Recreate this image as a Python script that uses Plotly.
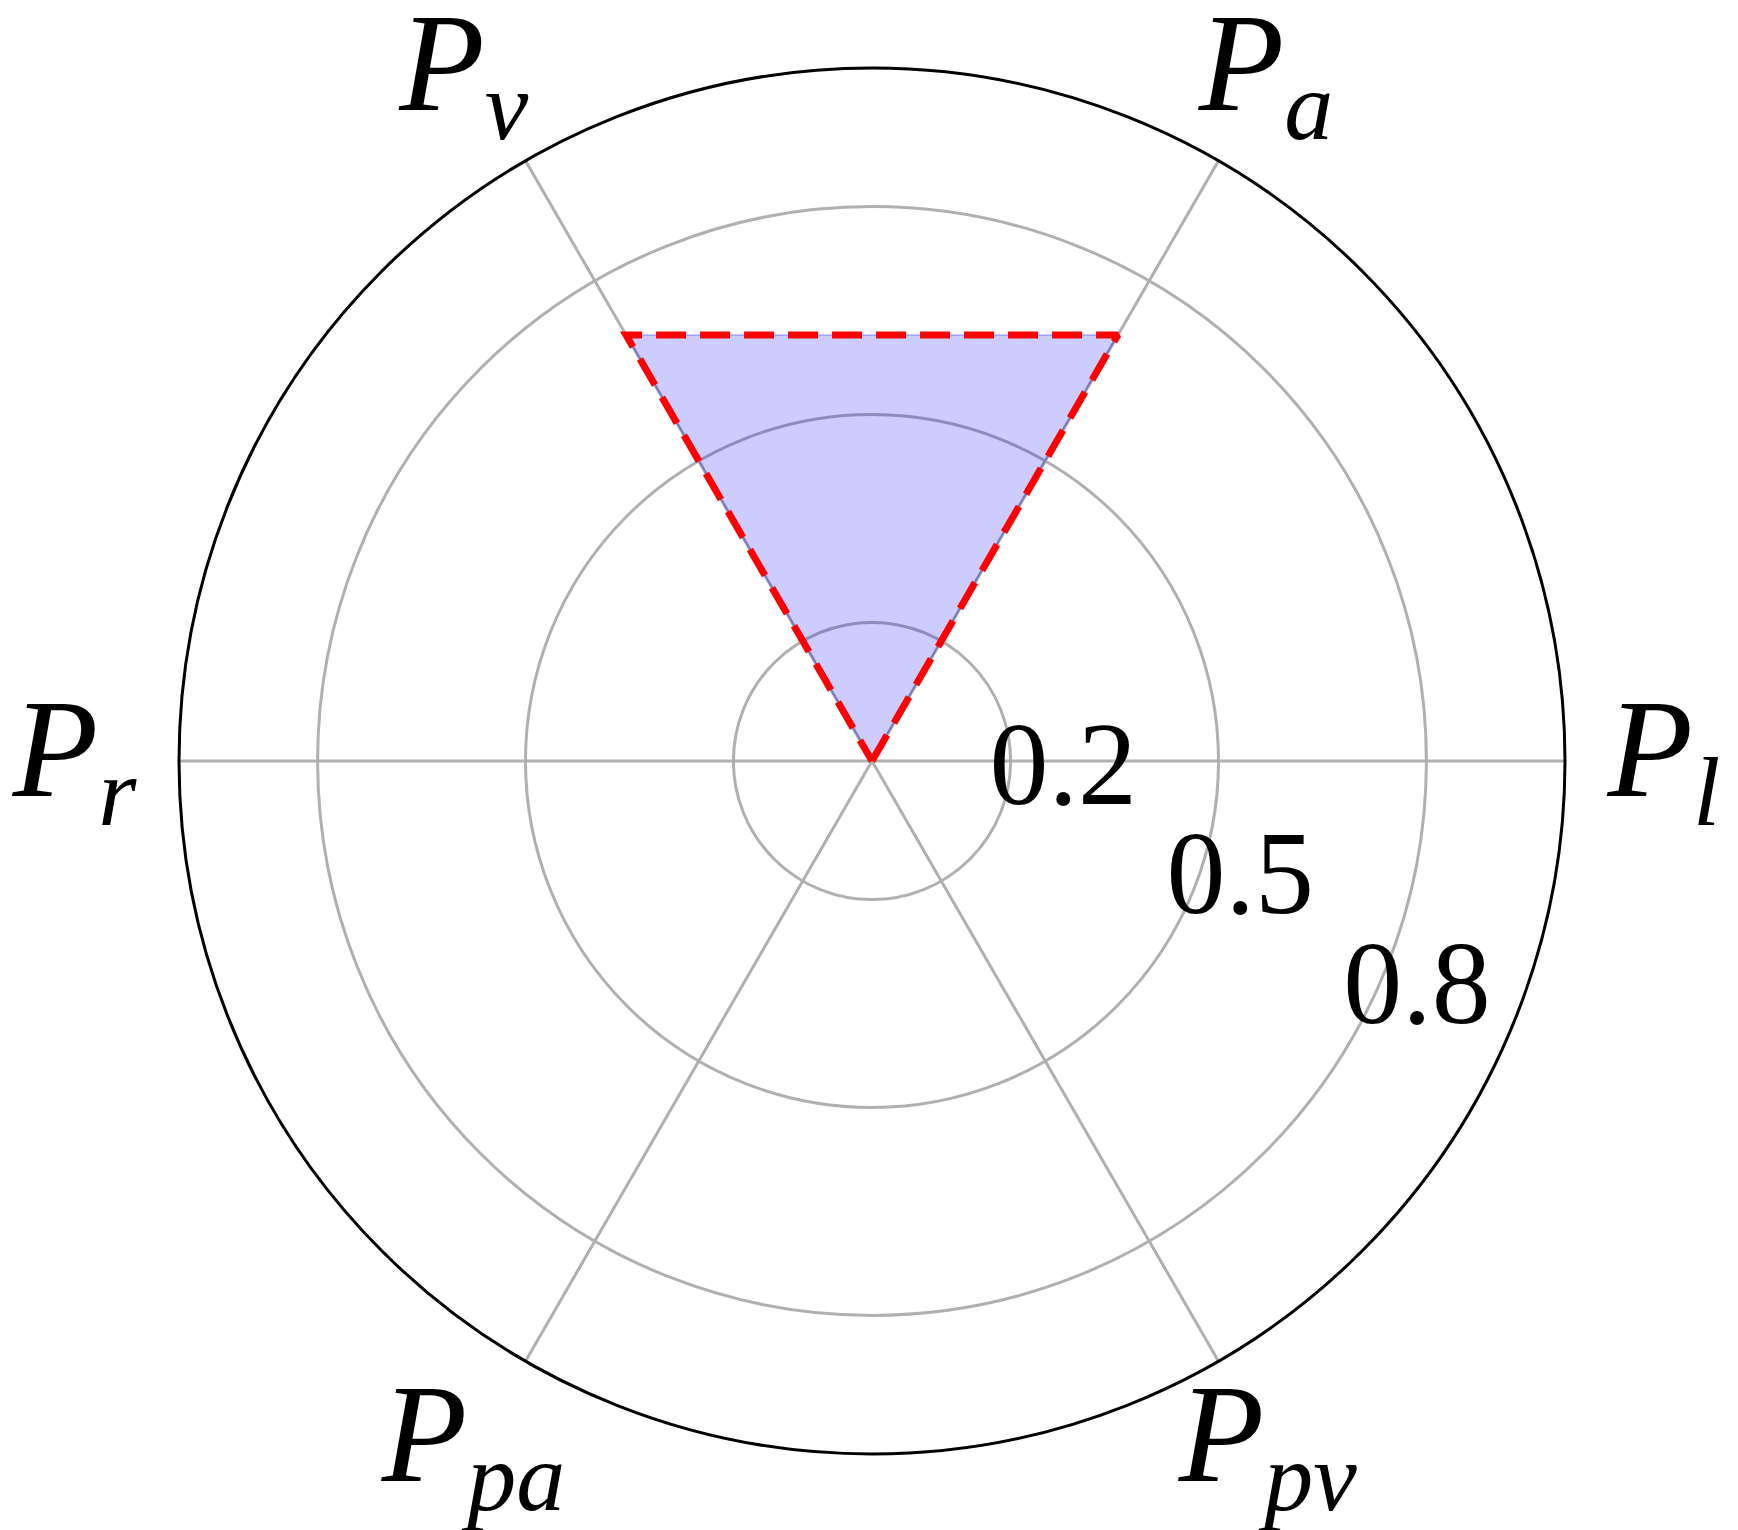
import plotly.graph_objects as go

# Axis categories (angles in degrees, counterclockwise from the right)
axis_labels = ['<i>P</i><sub><i>l</i></sub>', '<i>P</i><sub><i>a</i></sub>',
               '<i>P</i><sub><i>v</i></sub>', '<i>P</i><sub><i>r</i></sub>',
               '<i>P</i><sub><i>pa</i></sub>', '<i>P</i><sub><i>pv</i></sub>']
axis_angles = [0, 60, 120, 180, 240, 300]

# Values per axis
values = [0.0, 0.71, 0.71, 0.0, 0.0, 0.0]

# Radial ticks
radial_ticks = [0.2, 0.5, 0.8]
radial_tick_text = ['0.2', '0.5', '0.8']

# Close the polygon
r_closed = values + [values[0]]
theta_closed = axis_angles + [axis_angles[0]]

W, H = 1738, 1530
PAGE_OFFSET = 8   # default body margin of the html page
SERIF = 'Liberation Serif, DejaVu Serif, serif'
RADIAL_ANGLE = -31.7
LABEL_SIZE = 140
TICK_SIZE = 118


def polar_domain(cx, cy, radius):
    '''
    Returns a polar domain dict for a circle given in page pixels.
    '''
    cx, cy = cx - PAGE_OFFSET, cy - PAGE_OFFSET
    return {'x': [(cx - radius) / W, (cx + radius) / W],
            'y': [1 - (cy + radius) / H, 1 - (cy - radius) / H]}


def label_polar(cx, cy, radius, keep):
    '''
    Returns an invisible polar subplot that only shows some of the angular labels.
    '''
    return {'domain': polar_domain(cx, cy, radius),
            'bgcolor': 'rgba(0, 0, 0, 0)',
            'radialaxis': {'visible': False, 'range': [0, 1]},
            'angularaxis': {'direction': 'counterclockwise',
                            'rotation': 0,
                            'tickmode': 'array',
                            'tickvals': [axis_angles[i] for i in keep],
                            'ticktext': [axis_labels[i] for i in keep],
                            'ticks': '',
                            'showline': False,
                            'showgrid': False,
                            'tickfont': {'size': LABEL_SIZE, 'family': SERIF, 'color': 'black'}}}


fig = go.Figure()

# Filled area with a faint edge
fig.add_trace(go.Scatterpolar(r=r_closed, theta=theta_closed,
                              mode='lines',
                              fill='toself',
                              fillcolor='rgba(0, 0, 255, 0.2)',
                              line={'color': 'rgba(0, 0, 255, 0.2)', 'width': 2},
                              hoverinfo='skip'))

# Red dashed outline
fig.add_trace(go.Scatterpolar(r=r_closed, theta=theta_closed,
                              mode='lines',
                              line={'color': 'red', 'width': 7, 'dash': '30px,14px'},
                              hoverinfo='skip'))

# Invisible traces so the label-only subplots get drawn
for sub in ['polar2', 'polar3', 'polar4', 'polar5']:
    fig.add_trace(go.Scatterpolar(r=[0], theta=[0], mode='markers',
                                  marker={'opacity': 0},
                                  hoverinfo='skip', subplot=sub))

fig.update_layout(width=W, height=H,
                  margin={'l': 0, 'r': 0, 't': 0, 'b': 0},
                  paper_bgcolor='white',
                  showlegend=False,
                  font={'family': SERIF, 'color': 'black'},
                  polar={'domain': polar_domain(872, 761, 693),
                         'bgcolor': 'white',
                         'radialaxis': {'range': [0, 1],
                                        'tickvals': radial_ticks,
                                        'showticklabels': False,
                                        'angle': RADIAL_ANGLE,
                                        'showline': False,
                                        'ticks': '',
                                        'gridcolor': '#b0b0b0',
                                        'gridwidth': 2.5,
                                        'layer': 'above traces'},
                         'angularaxis': {'direction': 'counterclockwise',
                                         'rotation': 0,
                                         'tickmode': 'array',
                                         'tickvals': axis_angles,
                                         'showticklabels': False,
                                         'ticks': '',
                                         'showline': True,
                                         'linecolor': 'black',
                                         'linewidth': 3,
                                         'gridcolor': '#b0b0b0',
                                         'gridwidth': 2.5,
                                         'layer': 'below traces'}},
                  # label-only subplots, placed so the labels sit where the reference has them
                  polar2=label_polar(872, 747, 735, keep=[0, 3]),
                  polar3=label_polar(863.5, 690, 670, keep=[1, 2]),
                  polar4=label_polar(872, 804, 613, keep=[4, 5]),
                  polar5={'domain': polar_domain(828, 743, 693),
                          'bgcolor': 'rgba(0, 0, 0, 0)',
                          'radialaxis': {'range': [0, 1],
                                         'tickvals': radial_ticks,
                                         'ticktext': radial_tick_text,
                                         'angle': RADIAL_ANGLE,
                                         'tickangle': RADIAL_ANGLE,
                                         'side': 'counterclockwise',
                                         'showline': False,
                                         'showgrid': False,
                                         'ticks': '',
                                         'tickfont': {'size': TICK_SIZE, 'family': SERIF, 'color': 'black'}},
                          'angularaxis': {'visible': False}})

fig.write_html('out.html')
